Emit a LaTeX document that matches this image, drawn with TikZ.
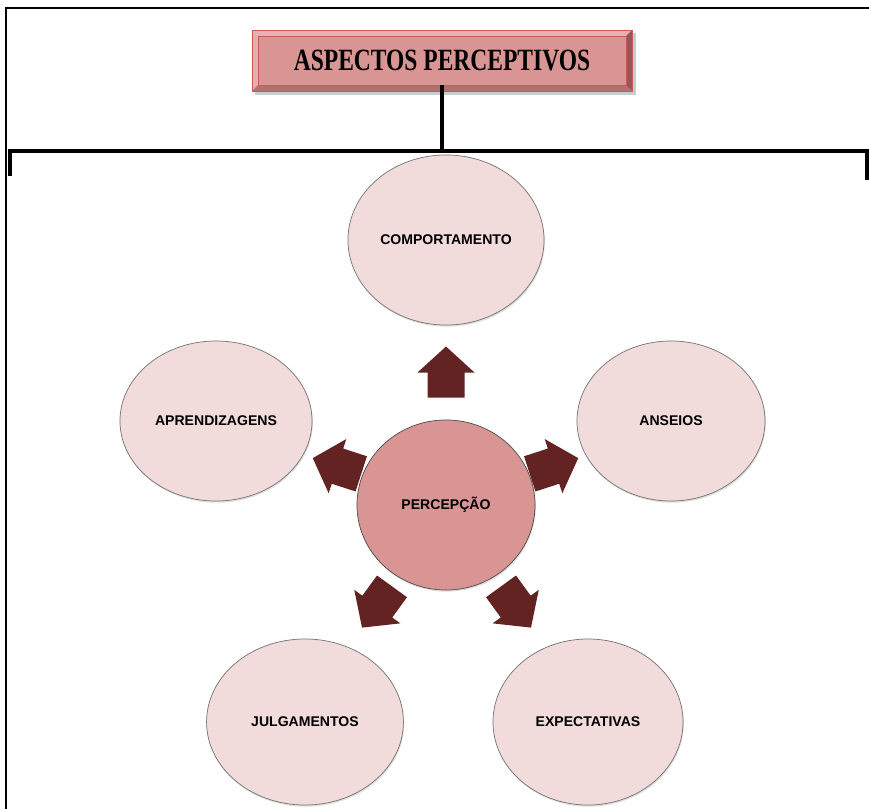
\documentclass[tikz,border=0pt]{standalone}
\usepackage{fontspec}
\setmainfont{Liberation Serif}
\setsansfont{Liberation Sans}
\usetikzlibrary{shapes.geometric,shadows}
\definecolor{titlered}{RGB}{217,149,148}
\definecolor{titlelight}{RGB}{231,178,177}
\definecolor{titledark}{RGB}{178,112,111}
\definecolor{titleside}{RGB}{150,88,87}
\definecolor{titleedge}{RGB}{200,90,88}
\definecolor{bubblepink}{RGB}{242,220,219}
\definecolor{arrowbrown}{RGB}{99,35,34}
\tikzset{
	bubble/.style={ellipse, draw=black!55, line width=0.5pt, fill=bubblepink, inner sep=0pt,
		font=\sffamily\bfseries\fontsize{10}{12}\selectfont,
		drop shadow={opacity=0.25, shadow xshift=0.6pt, shadow yshift=-1.2pt}},
	centro/.style={bubble, fill=titlered, draw=black!70},
}
\newcommand{\blockarrow}[2]{%
	\fill[arrowbrown, shift={#1}, rotate=#2] (0,-25.5) -- (28.5,0.5) -- (18.5,0.5) -- (18.5,25.5) -- (-18.5,25.5) -- (-18.5,0.5) -- (-28.5,0.5) -- cycle;}
\begin{document}
\begin{tikzpicture}[x=0.025cm,y=-0.025cm]
		\useasboundingbox (0,0) rectangle (869,809);
			\draw[line width=1pt] (6,809)--(6,8)--(869,8);
			\fill[black!20] (255,33) rectangle (636,95);
			\fill[titlelight] (252,30)--(632,30)--(626,36)--(258,36)--cycle;
			\fill[titlelight!90!titlered] (252,30)--(258,36)--(258,85)--(252,91)--cycle;
			\fill[titledark] (252,91)--(258,85)--(626,85)--(632,91)--cycle;
			\fill[titleside] (632,30)--(626,36)--(626,85)--(632,91)--cycle;
			\draw[titleedge, line width=0.6pt] (252,30) rectangle (632,91);
			\node[fill=titlered, draw=titleedge, line width=0.4pt, minimum width=9.2cm, minimum height=1.225cm, inner sep=0pt] (titulo) at (442,60.5)
				{\scalebox{0.76}[1]{\fontsize{22}{26}\selectfont\bfseries ASPECTOS PERCEPTIVOS}};
			\coordinate (barra) at (442,151);
			\draw[line width=2.8pt] (titulo.south)--(barra);
			\draw[line width=2.8pt] (10,176)|-(867,151)--(867,180);
			\node[bubble, minimum width=4.9cm, minimum height=4.25cm] (comp) at (446,240) {COMPORTAMENTO};
			\node[bubble, minimum width=4.8cm, minimum height=4cm] (apre) at (216,421) {APRENDIZAGENS};
			\node[bubble, minimum width=4.7cm, minimum height=4cm] (anse) at (671,421) {ANSEIOS};
			\node[centro, minimum width=4.45cm, minimum height=4.25cm] (perc) at (446,505) {PERCEPÇÃO};
			\node[bubble, minimum width=4.92cm, minimum height=4.15cm] (julg) at (305,722) {JULGAMENTOS};
			\node[bubble, minimum width=4.75cm, minimum height=4.15cm] (expe) at (588,722) {EXPECTATIVAS};
			\blockarrow{(446,372)}{0}
			\blockarrow{(337,466)}{72}
			\blockarrow{(554,466)}{-72}
			\blockarrow{(377,607)}{144}
			\blockarrow{(516,607)}{-144}
	\end{tikzpicture}
\end{document}
